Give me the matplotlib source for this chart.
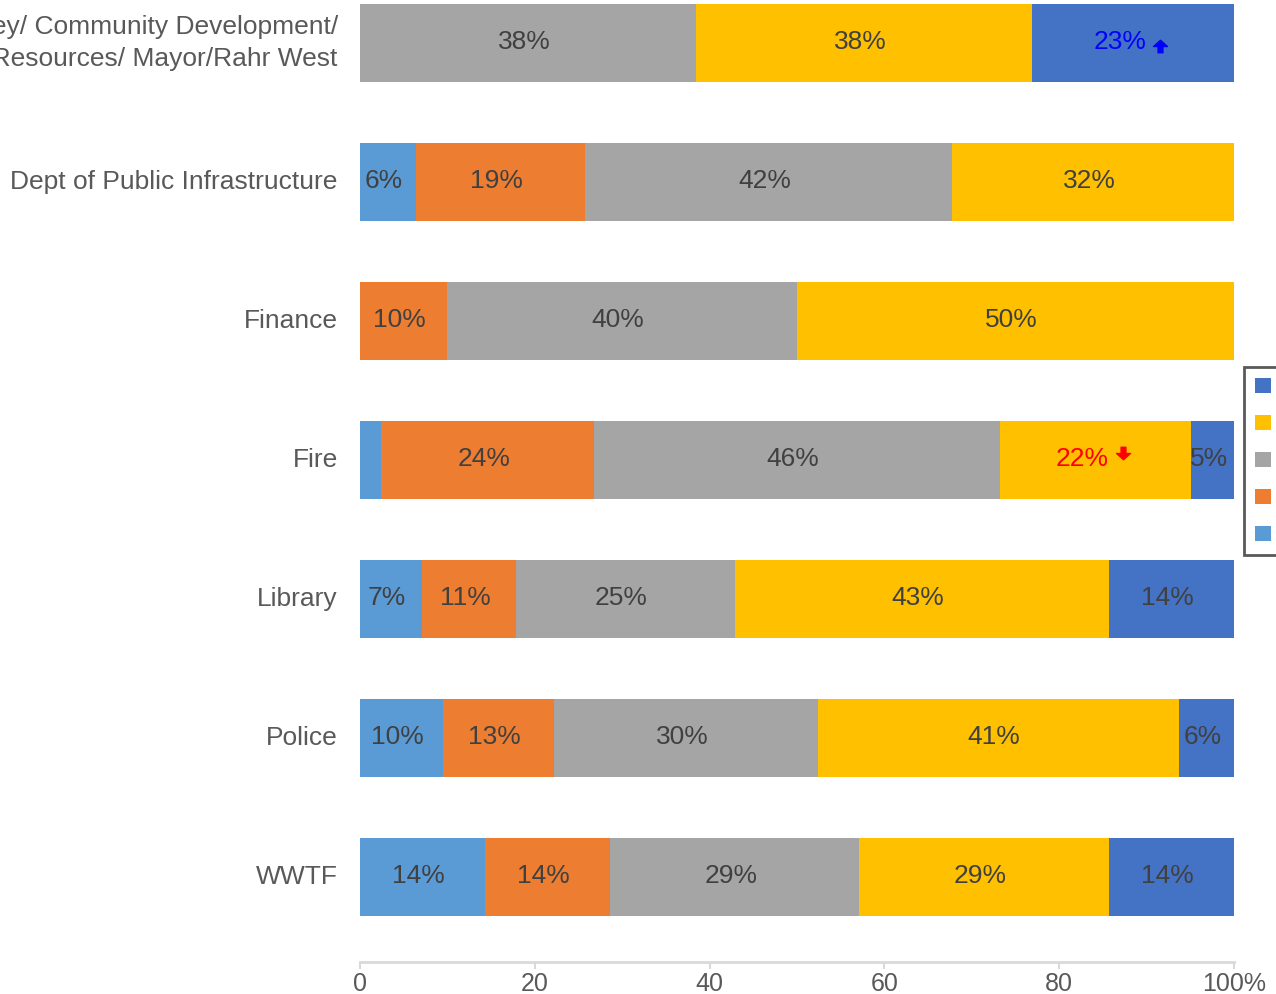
import matplotlib.pyplot as plt
import matplotlib.transforms as mtransforms
from matplotlib.path import Path
import numpy as np

plt.rcParams['font.family'] = ['Liberation Sans', 'DejaVu Sans']

categories = ["City Attorney/ Community Development/\nHuman Resources/ Mayor/Rahr West",
              "Dept of Public Infrastructure", "Finance", "Fire", "Library", "Police", "WWTF"]
series_names = ["Strongly Disagree", "Disagree", "Neutral", "Agree", "Strongly Agree"]
strongly_disagree = [0, 6.45, 0, 2.44, 7.14, 9.52, 14.29]
disagree = [0, 19.35, 10.0, 24.39, 10.71, 12.70, 14.29]
neutral = [38.46, 41.94, 40.0, 46.34, 25.0, 30.16, 28.57]
agree = [38.46, 32.26, 50.0, 21.95, 42.86, 41.27, 28.57]
strongly_agree = [23.08, 0, 0, 4.88, 14.29, 6.35, 14.29]
colors = ['#5B9BD5', '#ED7D31', '#A5A5A5', '#FFC000', '#4472C4']
xticks = [0, 20, 40, 60, 80, 100]
xticklabels = ['0', '20', '40', '60', '80', '100%']
# (category, series) -> (text colour, arrow direction)
highlights = {(0, 4): ('#0000FF', 'up'), (3, 3): ('#FF0000', 'down')}

values = [strongly_disagree, disagree, neutral, agree, strongly_agree]
ypos = np.arange(len(categories))[::-1]

# small block arrow used next to highlighted labels
up_verts = [(-0.35, -0.9), (0.35, -0.9), (0.35, 0.0), (1.0, 0.0), (0.0, 0.9), (-1.0, 0.0), (-0.35, 0.0), (-0.35, -0.9)]
up_arrow = Path(up_verts, closed=True)
down_arrow = Path([(x, -y) for x, y in up_verts], closed=True)

fig = plt.figure(figsize=(12.76, 9.94), dpi=100)
ax = fig.add_axes([360 / 1276, 32 / 994, 874 / 1276, 962 / 994])

left = np.zeros(len(categories))
for s, vals in enumerate(values):
    vals = np.array(vals)
    ax.barh(ypos, vals, left=left, height=0.56, color=colors[s], label=series_names[s])
    for i, v in enumerate(vals):
        if v < 3:
            continue
        cx = left[i] + v / 2
        if (i, s) in highlights:
            col, direction = highlights[(i, s)]
            ax.annotate('%d%%' % round(v), (cx, ypos[i]), xytext=(-13, 1), textcoords='offset pixels',
                        ha='center', va='center', fontsize=19, color=col)
            if direction == 'up':
                tr = mtransforms.offset_copy(ax.transData, fig=fig, x=27, y=-3, units='dots')
                ax.plot(cx, ypos[i], marker=up_arrow, markersize=10, color=col, transform=tr)
            else:
                tr = mtransforms.offset_copy(ax.transData, fig=fig, x=28, y=7, units='dots')
                ax.plot(cx, ypos[i], marker=down_arrow, markersize=10, color=col, transform=tr)
        else:
            ax.annotate('%d%%' % round(v), (cx, ypos[i]), xytext=(-4, 1), textcoords='offset pixels',
                        ha='center', va='center', fontsize=19, color='#404040')
    left += vals

ax.set_xlim(0, 100)
ax.set_ylim(-0.61, 6.31)
ax.set_yticks(ypos)
ax.set_yticklabels(categories, fontsize=19, color='#595959')
for lbl in ax.get_yticklabels():
    lbl.set_va('center')
    lbl.set_linespacing(1.45)
ax.tick_params(axis='y', length=0, pad=16)
ax.set_xticks(xticks)
ax.set_xticklabels(xticklabels, fontsize=18, color='#595959')
ax.tick_params(axis='x', length=5, width=1.5, color='#D9D9D9', pad=2)
for sp in ['top', 'right', 'left']:
    ax.spines[sp].set_visible(False)
ax.spines['bottom'].set_color('#D9D9D9')
ax.spines['bottom'].set_linewidth(2)
ax.spines['bottom'].set_zorder(0)

h, l = ax.get_legend_handles_labels()
leg = fig.legend(h[::-1], l[::-1], loc='upper left', bbox_to_anchor=(1244 / 1276, 1 - 367 / 994),
                 fontsize=14, handlelength=0.85, handleheight=0.85, labelspacing=0.95,
                 borderpad=0.55, borderaxespad=0, fancybox=False, framealpha=1)
leg.get_frame().set_edgecolor('#595959')
leg.get_frame().set_linewidth(2)

fig.savefig('out.png', dpi=100)
